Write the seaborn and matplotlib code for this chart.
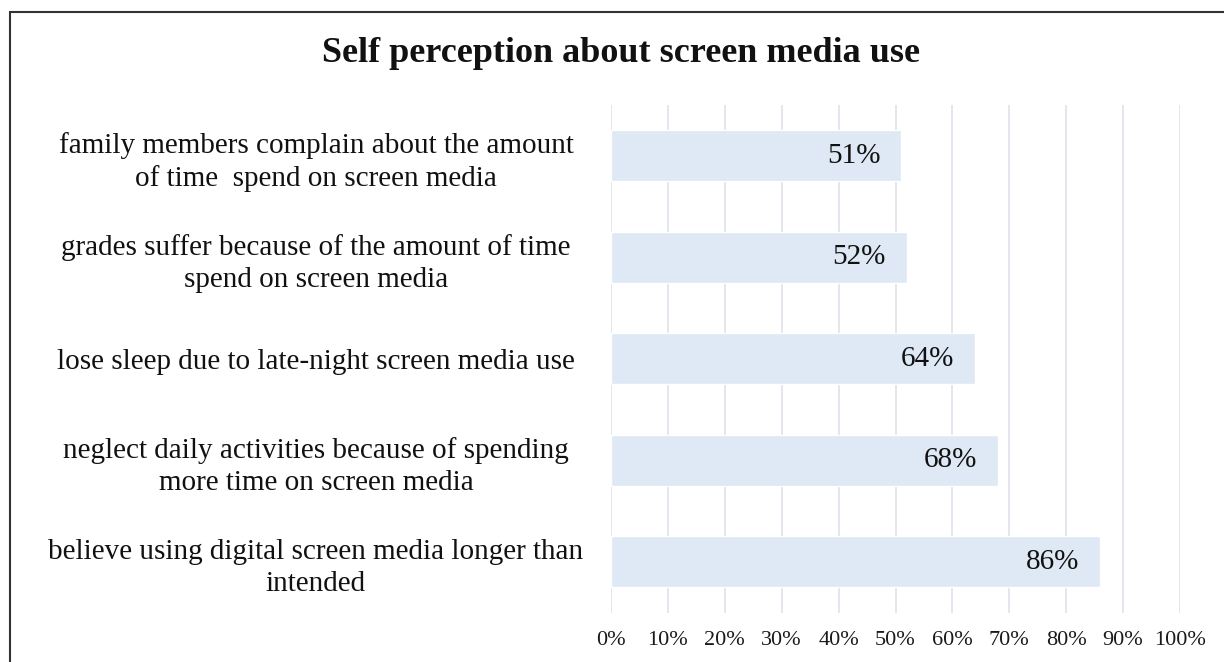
import matplotlib
matplotlib.use("Agg")
import matplotlib.pyplot as plt
import matplotlib.transforms as mtrans
import seaborn as sns
import pandas as pd
from matplotlib.patches import Rectangle
from matplotlib.ticker import FuncFormatter

categories = [
    "family members complain about the amount\nof time  spend on screen media",
    "grades suffer because of the amount of time\nspend on screen media",
    "lose sleep due to late-night screen media use",
    "neglect daily activities because of spending\nmore time on screen media",
    "believe using digital screen media longer than\nintended",
]
values = [51, 52, 64, 68, 86]
ticks = [0, 10, 20, 30, 40, 50, 60, 70, 80, 90, 100]
title = "Self perception about screen media use"

sns.set_theme(style="white")
plt.rcParams["font.family"] = ["Liberation Serif", "DejaVu Serif"]

df = pd.DataFrame({"category": categories, "value": values})

W, H = 1224, 662
fig = plt.figure(figsize=(W / 100, H / 100), dpi=100)
ax = fig.add_axes([611 / W, 1 - 612.5 / H, (1180 - 611) / W, (612.5 - 105) / H])

sns.barplot(data=df, y="category", x="value", order=categories, orient="h",
            color="#DEE9F5", width=0.5, saturation=1, ax=ax, zorder=2)

ax.set_xlim(0, 100)
ax.set_ylim(len(categories) - 0.5, -0.5)
ax.set_xticks(ticks)
ax.xaxis.set_major_formatter(FuncFormatter(lambda v, p: f"{int(v)}%"))
ax.grid(axis="x", color="#E2E4EC", linewidth=1.3, zorder=0)
ax.grid(axis="y", visible=False)
for s in ax.spines.values():
    s.set_visible(False)
ax.tick_params(axis="x", length=0, labelsize=16, pad=13, colors="#1a1a1a")
ax.tick_params(axis="y", length=0, labelsize=21, pad=0)
ax.set_xlabel("")
ax.set_ylabel("")

offset = mtrans.ScaledTranslation(-(611 - 316) / 100, 0, fig.dpi_scale_trans)
for lbl in ax.get_yticklabels():
    lbl.set_horizontalalignment("center")
    lbl.set_linespacing(1.32)
    lbl.set_color("#111111")
    lbl.set_transform(lbl.get_transform() + offset)

for c in ax.containers:
    texts = ax.bar_label(c, labels=[f"{v}%" for v in values], label_type="edge",
                         padding=-15, fontsize=21, color="#111111")
    for t in texts:
        t.set_horizontalalignment("right")

fig.text(621 / W, 1 - 54 / H, title, ha="center", va="center",
         fontsize=26, fontweight="bold", color="#111111")

frame = Rectangle((10 / W, -0.1), 1.2, 1 - 12 / H + 0.1, transform=fig.transFigure,
                  fill=False, edgecolor="#333333", linewidth=1.5, clip_on=False)
fig.patches.append(frame)

fig.savefig("out.png", dpi=100)
